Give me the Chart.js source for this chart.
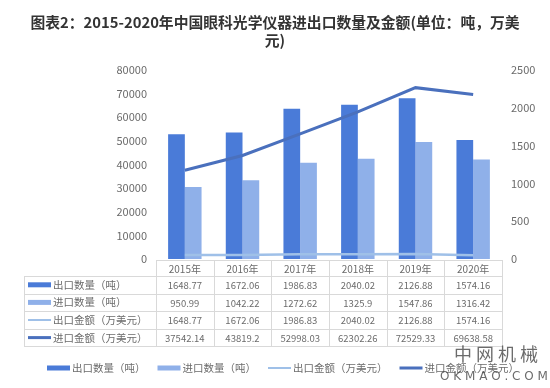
<!DOCTYPE html>
<html>
<head>
<meta charset="utf-8">
<script src="https://cdn.jsdelivr.net/npm/chart.js@4.4.0/dist/chart.umd.min.js"></script>
<style>
  html, body { margin: 0; padding: 0; background: #fff; }
  #wrap { width: 550px; height: 388px; position: relative; }
</style>
</head>
<body>
<div id="wrap"><canvas id="chart" width="550" height="388"></canvas></div>
<script>
// 2015-2020 China ophthalmic optical instrument import/export
const years = ['2015年', '2016年', '2017年', '2018年', '2019年', '2020年'];
const exportQty = [1648.77, 1672.06, 1986.83, 2040.02, 2126.88, 1574.16];
const importQty = [950.99, 1042.22, 1272.62, 1325.9, 1547.86, 1316.42];
const exportAmt = [1648.77, 1672.06, 1986.83, 2040.02, 2126.88, 1574.16];
const importAmt = [37542.14, 43819.2, 52998.03, 62302.26, 72529.33, 69638.58];
const exportAmtText = ['1648.77', '1672.06', '1986.83', '2040.02', '2126.88', '1574.16'];

const titleLines = ['图表2：2015-2020年中国眼科光学仪器进出口数量及金额(单位：吨，万美', '元)'];

const colors = {
    exportQty: '#4a7bd8',
    importQty: '#8fb0e9',
    exportAmt: '#9fc0e8',
    importAmt: '#4a70bd'
};

const FONT = '"Noto Sans CJK SC", "Noto Sans", sans-serif';
const TEXT = '#6b6b6b';

// table rows, in the order of the picture
const rows = [
    { label: '出口数量（吨）', color: colors.exportQty, kind: 'bar', values: exportQty.map(v => String(v)) },
    { label: '进口数量（吨）', color: colors.importQty, kind: 'bar', values: importQty.map(v => String(v)) },
    { label: '出口金额（万美元）', color: colors.exportAmt, kind: 'line', values: exportAmtText },
    { label: '进口金额（万美元）', color: colors.importAmt, kind: 'thickline', values: importAmt.map(v => String(v)) }
];

function swatch(ctx, x, y, row) {
    ctx.fillStyle = row.color;
    if (row.kind === 'bar') ctx.fillRect(x, y - 2.5, 23, 5);
    else if (row.kind === 'thickline') ctx.fillRect(x, y - 1.5, 23, 3);
    else ctx.fillRect(x, y - 1, 23, 2);
}

const tablePlugin = {
    id: 'tablePlugin',
    afterDraw(chart) {
        const ctx = chart.ctx;
        const x = chart.scales.x;
        const area = chart.chartArea;
        ctx.save();

        // title
        ctx.fillStyle = '#333';
        ctx.font = 'bold 14.8px ' + FONT;
        ctx.textAlign = 'center';
        ctx.textBaseline = 'middle';
        ctx.fillText(titleLines[0], 275, 22);
        ctx.fillText(titleLines[1], 275, 40);

        // table grid
        const tLeft = 24, tRight = area.right;
        const headTop = area.bottom + 1, headH = 16, rowH = 17.6;
        const colW = (area.right - area.left) / years.length;
        ctx.strokeStyle = '#d9d9d9';
        ctx.lineWidth = 1;
        ctx.beginPath();
        ctx.moveTo(area.left, headTop + 0.5); ctx.lineTo(tRight, headTop + 0.5);
        for (let r = 0; r <= rows.length; r++) {
            const yy = Math.round(headTop + headH + r * rowH) + 0.5;
            ctx.moveTo(tLeft, yy); ctx.lineTo(tRight, yy);
        }
        const bottom = Math.round(headTop + headH + rows.length * rowH) + 0.5;
        ctx.moveTo(tLeft + 0.5, headTop + headH); ctx.lineTo(tLeft + 0.5, bottom);
        for (let c = 0; c <= years.length; c++) {
            const xx = Math.round(area.left + c * colW) + 0.5;
            ctx.moveTo(xx, headTop); ctx.lineTo(xx, bottom);
        }
        ctx.stroke();

        // header
        ctx.fillStyle = TEXT;
        ctx.font = '10px ' + FONT;
        ctx.textAlign = 'center';
        years.forEach((yr, i) => {
            ctx.fillText(yr, x.getPixelForValue(i), headTop + headH / 2 + 1);
        });

        // rows
        rows.forEach((row, r) => {
            const cy = headTop + headH + r * rowH + rowH / 2;
            swatch(ctx, tLeft + 4, cy, row);
            ctx.fillStyle = TEXT;
            ctx.textAlign = 'left';
            ctx.font = '10.5px ' + FONT;
            ctx.fillText(row.label, tLeft + 29, cy);
            ctx.textAlign = 'center';
            ctx.font = '9.5px ' + FONT;
            row.values.forEach((v, i) => {
                ctx.fillText(v, x.getPixelForValue(i), cy + 0.5);
            });
        });

        // bottom legend
        ctx.font = '10.5px ' + FONT;
        const items = rows.map(r => ({ row: r, w: 25 + ctx.measureText(r.label).width }));
        const gap = 12;
        const total = items.reduce((s, it) => s + it.w, 0) + gap * (items.length - 1);
        let lx = 275 - total / 2 + 8;
        const ly = 368;
        items.forEach(it => {
            swatch(ctx, lx, ly, it.row);
            ctx.fillStyle = TEXT;
            ctx.textAlign = 'left';
            ctx.fillText(it.row.label, lx + 25, ly);
            lx += it.w + gap;
        });

        // site mark, bottom right
        ctx.fillStyle = 'rgba(70,70,70,0.8)';
        ctx.textAlign = 'center';
        ctx.font = '18px ' + FONT;
        ctx.fillText('中 网 机 械', 496, 354);
        ctx.font = '12px "DejaVu Sans", sans-serif';
        ctx.fillText('O K M A O . C O M', 494, 377);

        ctx.restore();
    }
};

const plainTick = v => String(v);

new Chart(document.getElementById('chart'), {
    type: 'bar',
    data: {
        labels: years,
        datasets: [
            {
                type: 'line', label: '进口金额（万美元）', data: importAmt, yAxisID: 'y',
                borderColor: colors.importAmt, borderWidth: 3, pointRadius: 0, tension: 0, order: 0
            },
            {
                type: 'line', label: '出口金额（万美元）', data: exportAmt, yAxisID: 'y',
                borderColor: colors.exportAmt, borderWidth: 2.5, pointRadius: 0, tension: 0, order: 0
            },
            {
                label: '出口数量（吨）', data: exportQty, yAxisID: 'y1',
                backgroundColor: colors.exportQty, categoryPercentage: 0.58, barPercentage: 1, order: 1
            },
            {
                label: '进口数量（吨）', data: importQty, yAxisID: 'y1',
                backgroundColor: colors.importQty, categoryPercentage: 0.58, barPercentage: 1, order: 1
            }
        ]
    },
    options: {
        responsive: false,
        animation: false,
        layout: { padding: { top: 70, left: 0, right: 0, bottom: 0 } },
        plugins: {
            legend: { display: false },
            title: { display: false },
            tooltip: { enabled: false }
        },
        scales: {
            x: {
                offset: true,
                grid: { display: false },
                border: { display: false },
                ticks: { display: false },
                afterFit(scale) { scale.height = 129; }
            },
            y: {
                position: 'left',
                min: 0, max: 80000,
                ticks: { stepSize: 10000, color: TEXT, padding: 9, font: { family: FONT, size: 11 }, callback: plainTick },
                grid: { display: false, drawTicks: false },
                border: { display: false },
                afterFit(scale) { scale.width = 156; }
            },
            y1: {
                position: 'right',
                min: 0, max: 2500,
                ticks: { stepSize: 500, color: TEXT, padding: 9, font: { family: FONT, size: 11 }, callback: plainTick },
                grid: { display: false, drawTicks: false },
                border: { display: false },
                afterFit(scale) { scale.width = 48; }
            }
        }
    },
    plugins: [tablePlugin]
});
</script>
</body>
</html>
